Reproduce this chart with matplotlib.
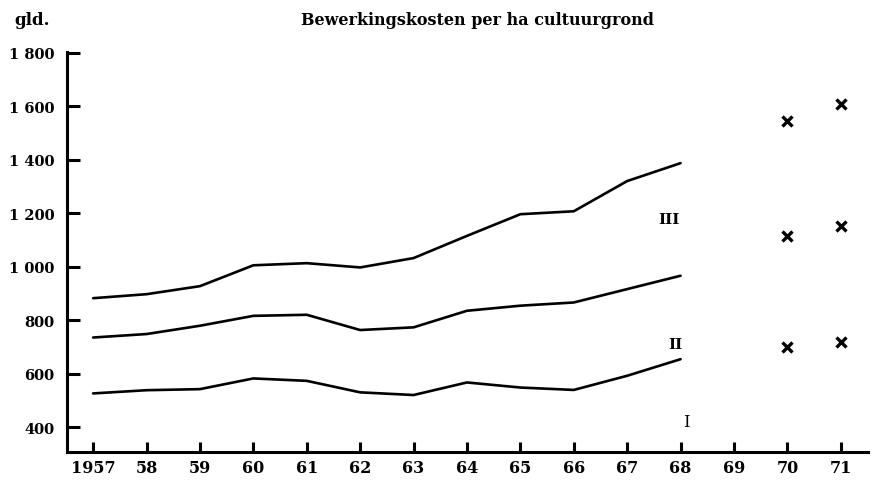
"""Bewerkingskosten per ha cultuurgrond, 1957-1971."""

import matplotlib

matplotlib.use("Agg")

import matplotlib.pyplot as plt  # noqa: E402

YEARS = [1957, 1958, 1959, 1960, 1961, 1962, 1963, 1964, 1965, 1966, 1967, 1968]
GROUP_III = [882, 897, 927, 1005, 1013, 997, 1032, 1115, 1196, 1207, 1320, 1387]
GROUP_II = [735, 748, 779, 816, 820, 763, 773, 835, 854, 866, 916, 966]
GROUP_I = [526, 538, 542, 582, 573, 530, 520, 567, 548, 539, 592, 654]

FORECAST_YEARS = [1970, 1971]
FORECAST_III = [1545, 1607]
FORECAST_II = [1115, 1153]
FORECAST_I = [698, 717]

X_TICKS = list(range(1957, 1972))
X_LABELS = ["1957"] + [f"{year % 100}" for year in range(1958, 1972)]
Y_TICKS = [400, 600, 800, 1000, 1200, 1400, 1600, 1800]
Y_LABELS = ["400", "600", "800", "1 000", "1 200", "1 400", "1 600", "1 800"]

SERIF = ["DejaVu Serif"]


def main() -> None:
    plt.rcParams["font.family"] = SERIF
    plt.rcParams["font.weight"] = "bold"

    fig = plt.figure(figsize=(8.73, 4.85), dpi=100)
    ax = fig.add_axes((0.0767, 0.066, 0.917, 0.825))

    for values in (GROUP_III, GROUP_II, GROUP_I):
        ax.plot(YEARS, values, color="black", linewidth=1.9, solid_capstyle="round")
    for values in (FORECAST_III, FORECAST_II, FORECAST_I):
        ax.plot(
            FORECAST_YEARS,
            values,
            linestyle="none",
            marker="x",
            markersize=7,
            markeredgewidth=2.4,
            color="black",
        )

    ax.text(1967.78, 1178, "III", ha="center", va="center", fontsize=11)
    ax.text(1967.9, 710, "II", ha="center", va="center", fontsize=11)
    ax.text(1968.1, 422, "I", ha="center", va="center", fontsize=12, fontweight="normal")

    ax.set_xlim(1956.51, 1971.5)
    ax.set_ylim(307, 1803)
    ax.set_xticks(X_TICKS)
    ax.set_xticklabels(X_LABELS, fontsize=11.5)
    ax.set_yticks(Y_TICKS)
    ax.set_yticklabels(Y_LABELS, fontsize=10.5)

    for side in ("top", "right"):
        ax.spines[side].set_visible(False)
    for side in ("left", "bottom"):
        ax.spines[side].set_linewidth(2.2)
    ax.tick_params(axis="y", direction="in", length=9, width=2.2, pad=9)
    ax.tick_params(axis="x", direction="in", length=7, width=2.2, pad=5)

    fig.text(0.017, 0.975, "gld.", ha="left", va="top", fontsize=12)
    fig.text(
        0.547,
        0.975,
        "Bewerkingskosten per ha cultuurgrond",
        ha="center",
        va="top",
        fontsize=11.5,
    )

    fig.savefig("out.png", dpi=100, facecolor="white")
    plt.close(fig)


if __name__ == "__main__":
    main()
